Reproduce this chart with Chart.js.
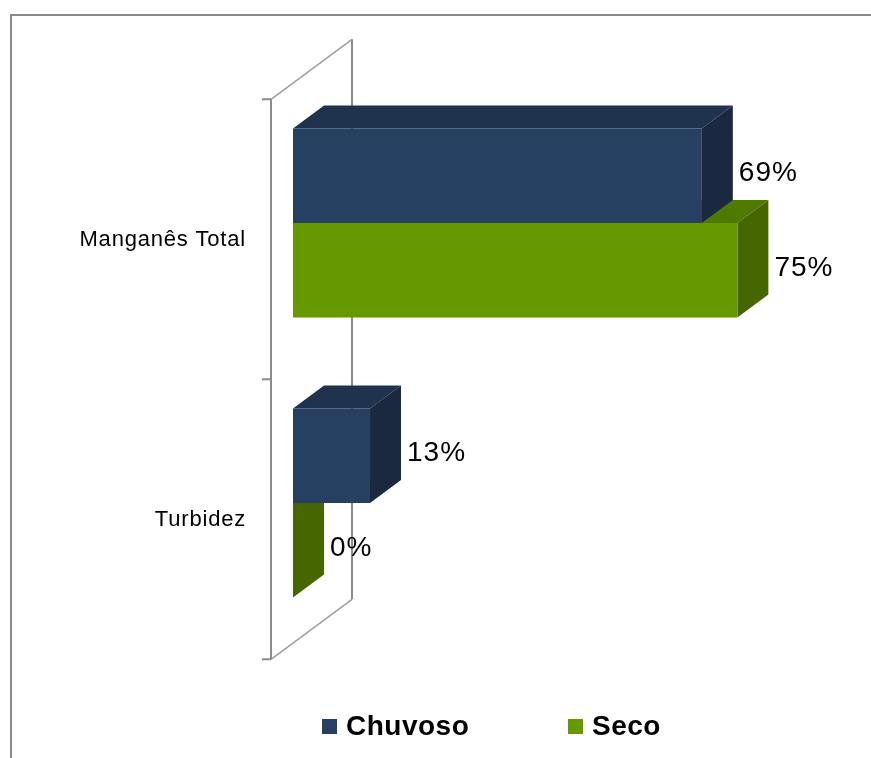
<!DOCTYPE html>
<html>
<head>
<meta charset="utf-8">
<script src="https://cdn.jsdelivr.net/npm/chart.js@4.4.1/dist/chart.umd.min.js"></script>
<style>
  html, body { margin: 0; padding: 0; background: #fff; }
  #c { display: block; }
</style>
</head>
<body>
<canvas id="c" width="871" height="758"></canvas>
<script>
// Data
const categories = ['Manganês Total', 'Turbidez'];
const seriesNames = ['Chuvoso', 'Seco'];
const chuvosoValues = [69, 13];
const secoValues = [75, 0];

// Face colours per series: front, top, side
const FRONT = ['#254061', '#669900'];
const TOP = ['#1f334f', '#4f7a00'];
const SIDE = ['#1a2940', '#456600'];

// 3D geometry (pixels along the depth direction)
const SLOPE = 0.74;        // vertical rise per pixel of depth
const BAR_OFFSET = 22;     // bar front plane, measured from the wall front
const BAR_DEPTH = 31;      // bar thickness in depth
const WALL_DEPTH = 81;     // total depth of the side wall
const LINE = '#8c8c8c';
const FONT = 'Liberation Sans, Arial, sans-serif';

function barRect(el) {
  const p = el.getProps(['x', 'y', 'base', 'height'], true);
  return {
    left: Math.min(p.x, p.base),
    right: Math.max(p.x, p.base),
    top: p.y - p.height / 2,
    bottom: p.y + p.height / 2,
    cy: p.y
  };
}

function poly(ctx, pts, fill) {
  ctx.beginPath();
  ctx.moveTo(pts[0][0], pts[0][1]);
  for (let i = 1; i < pts.length; i++) ctx.lineTo(pts[i][0], pts[i][1]);
  ctx.closePath();
  ctx.fillStyle = fill;
  ctx.fill();
}

const depth3d = {
  id: 'depth3d',
  beforeDraw(chart) {
    const ctx = chart.ctx;
    ctx.letterSpacing = '0.8px';
    // outer frame
    ctx.save();
    ctx.strokeStyle = '#8a8a8a';
    ctx.lineWidth = 2;
    ctx.beginPath();
    ctx.moveTo(11, chart.height + 5);
    ctx.lineTo(11, 15);
    ctx.lineTo(chart.width + 5, 15);
    ctx.stroke();
    ctx.restore();
  },
  beforeDatasetsDraw(chart) {
    const ctx = chart.ctx;
    const ca = chart.chartArea;
    const fx = ca.left - BAR_OFFSET;
    const fTop = ca.top + BAR_OFFSET * SLOPE;
    const fBot = ca.bottom + BAR_OFFSET * SLOPE;
    const bx = fx + WALL_DEPTH;
    const bTop = fTop - WALL_DEPTH * SLOPE;
    const bBot = fBot - WALL_DEPTH * SLOPE;
    ctx.save();
    ctx.lineCap = 'butt';
    // diagonals of the side wall
    ctx.strokeStyle = '#a0a0a0';
    ctx.lineWidth = 1.6;
    ctx.beginPath();
    ctx.moveTo(fx, fTop); ctx.lineTo(bx, bTop);
    ctx.moveTo(fx, fBot); ctx.lineTo(bx, bBot);
    ctx.stroke();
    // vertical edges
    ctx.strokeStyle = LINE;
    ctx.lineWidth = 2;
    ctx.beginPath();
    ctx.moveTo(fx, fTop); ctx.lineTo(fx, fBot);
    ctx.moveTo(bx, bTop); ctx.lineTo(bx, bBot);
    // category tick marks
    const band = (ca.bottom - ca.top) / categories.length;
    for (let i = 0; i <= categories.length; i++) {
      const y = fTop + i * band;
      ctx.moveTo(fx - 9, y); ctx.lineTo(fx, y);
    }
    ctx.stroke();
    ctx.restore();
  },
  beforeDatasetDraw(chart, args) {
    const ctx = chart.ctx;
    const i = args.index;
    const dx = BAR_DEPTH, dy = -BAR_DEPTH * SLOPE;
    ctx.save();
    args.meta.data.forEach(el => {
      const r = barRect(el);
      poly(ctx, [[r.left, r.top], [r.right, r.top], [r.right + dx, r.top + dy], [r.left + dx, r.top + dy]], TOP[i]);
      poly(ctx, [[r.right, r.top], [r.right, r.bottom], [r.right + dx, r.bottom + dy], [r.right + dx, r.top + dy]], SIDE[i]);
    });
    ctx.restore();
  },
  afterDatasetsDraw(chart) {
    const ctx = chart.ctx;
    ctx.save();
    ctx.letterSpacing = '1px';
    ctx.font = '28px ' + FONT;
    ctx.fillStyle = '#000';
    ctx.textAlign = 'left';
    ctx.textBaseline = 'middle';
    chart.data.datasets.forEach((ds, i) => {
      chart.getDatasetMeta(i).data.forEach((el, j) => {
        const r = barRect(el);
        ctx.fillText(ds.data[j] + '%', r.right + BAR_DEPTH + 6, r.cy - 2);
      });
    });
    ctx.restore();
  },
  afterDraw(chart) {
    // legend
    const ctx = chart.ctx;
    const itemX = [322, 568];
    const boxY = 719, box = 15;
    ctx.save();
    ctx.letterSpacing = '0.5px';
    ctx.font = 'bold 28px ' + FONT;
    ctx.textAlign = 'left';
    ctx.textBaseline = 'middle';
    chart.data.datasets.forEach((ds, i) => {
      ctx.fillStyle = ds.backgroundColor;
      ctx.fillRect(itemX[i], boxY, box, box);
      ctx.fillStyle = '#000';
      ctx.fillText(ds.label, itemX[i] + 24, boxY + box / 2 + 1);
    });
    ctx.restore();
  }
};

new Chart(document.getElementById('c'), {
  type: 'bar',
  data: {
    labels: categories,
    datasets: [
      { label: seriesNames[0], data: chuvosoValues, backgroundColor: FRONT[0] },
      { label: seriesNames[1], data: secoValues, backgroundColor: FRONT[1] }
    ]
  },
  options: {
    indexAxis: 'y',
    responsive: false,
    animation: false,
    devicePixelRatio: 1,
    datasets: { bar: { categoryPercentage: 0.675, barPercentage: 1 } },
    layout: { padding: { left: 0, top: 83, right: 104, bottom: 115 } },
    scales: {
      x: { display: false, min: 0, max: 80 },
      y: {
        position: 'left',
        grid: { display: false, drawTicks: false },
        border: { display: false },
        ticks: {
          padding: 47,
          labelOffset: 17,
          color: '#000',
          font: { family: FONT, size: 22 }
        },
        afterFit(scale) { scale.width = 293; }
      }
    },
    plugins: {
      legend: { display: false },
      tooltip: { enabled: false }
    }
  },
  plugins: [depth3d]
});
</script>
</body>
</html>
